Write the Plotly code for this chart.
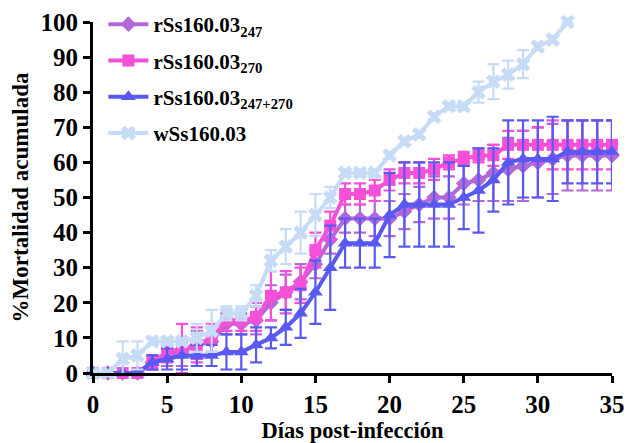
import plotly.graph_objects as go

days = list(range(0, 36))
days_w = list(range(0, 33))

# rSs160.03_247 (purple diamonds)
v247 = [0, 0, 0, 0, 3, 5, 6, 8, 9, 14, 14, 15, 20, 23, 26, 31, 38, 44, 44, 44, 44, 46, 48, 50,
        50, 54, 55, 57, 58, 59, 60, 61, 62, 62, 62, 62]
sd247 = [0, 0, 0, 0, 2, 3, 4, 4, 4, 3, 3, 4, 5, 5, 5, 4, 4, 4, 4, 5, 5, 5, 5, 6,
         6, 6, 6, 8, 9, 10, 10, 10, 10, 10, 10, 10]

# rSs160.03_270 (pink squares)
v270 = [0, 0, 0, 0, 3, 6, 7, 8, 10, 15, 15, 16, 22, 23, 25, 35, 42, 51, 51, 52, 55, 57, 57, 58,
        60, 61, 62, 62, 65, 65, 65, 65, 65, 65, 65, 65]
sd270 = [0, 0, 0, 0, 2, 3, 7, 5, 4, 3, 3, 4, 7, 6, 5, 5, 4, 3, 3, 3, 3, 3, 3, 3,
         2, 2, 2, 3, 4, 4, 5, 7, 7, 7, 7, 7]

# rSs160.03_247+270 (blue triangles)
vboth = [0, 0, 0, 0, 3, 4, 5, 5, 5, 6, 6, 8, 10, 13, 17, 23, 30, 37, 37, 37, 45, 48, 48, 48,
         48, 50, 52, 55, 60, 61, 61, 61, 63, 63, 63, 63]
sdboth = [0, 0, 0, 0, 2, 3, 4, 3, 3, 5, 5, 5, 3, 5, 7, 9, 12, 7, 7, 7, 12, 12, 12, 12,
          12, 9, 12, 9, 12, 11, 11, 12, 9, 9, 9, 9]

# wSs160.03 (light blue crosses)
vw = [0, 0, 4, 5, 9, 9, 9, 10, 12, 17, 17, 22, 32, 36, 40, 45, 50, 57, 57, 57, 62, 66, 68, 73,
      76, 76, 80, 83, 85, 88, 93, 95, 100]
sdw = [0, 0, 5, 4, 1, 1, 1, 4, 6, 2, 2, 3, 3, 5, 6, 6, 3, 1, 1, 1, 1, 1, 1, 1,
       1, 1, 3, 5, 4, 4, 1, 1, 0]

names = ["rSs160.03<sub>247</sub>", "rSs160.03<sub>270</sub>",
         "rSs160.03<sub>247+270</sub>", "wSs160.03"]
colors = ["#B467D8", "#F64FD8", "#5959F2", "#C6DCF6"]
symbols = ["diamond", "square", "triangle-up", "x"]
sizes = [12, 12, 13, 13]

series = [(days, v247, sd247), (days, v270, sd270), (days, vboth, sdboth), (days_w, vw, sdw)]

fig = go.Figure()
for i, (xs, ys, sds) in enumerate(series):
    fig.add_trace(go.Scatter(
        x=xs, y=ys, name=names[i], mode="lines+markers",
        line=dict(color=colors[i], width=4),
        marker=dict(symbol=symbols[i], size=sizes[i], color=colors[i],
                    line=dict(width=0)),
        error_y=dict(type="data", array=sds, visible=True, color=colors[i],
                     thickness=2.2, width=6),
        cliponaxis=False, legendgroup=f"g{i}",
    ))

font_family = "Liberation Serif"
fig.update_layout(
    width=628, height=443,
    margin=dict(l=93, r=16, t=22, b=70, autoexpand=False),
    paper_bgcolor="white", plot_bgcolor="white",
    font=dict(family=font_family, size=20, color="black", weight="bold"),
    showlegend=True,
    legend=dict(x=0.02, y=1 - 4 / 443, xref="paper", yref="container",
                xanchor="left", yanchor="top",
                bgcolor="rgba(0,0,0,0)", font=dict(family=font_family, size=21, weight="bold"),
                tracegroupgap=6, traceorder="grouped", itemwidth=40),
    xaxis=dict(range=[0, 35], tickvals=[0, 5, 10, 15, 20, 25, 30, 35],
               showline=True, linewidth=3, linecolor="black", mirror=False,
               ticks="outside", ticklen=7, tickwidth=3, tickcolor="black",
               showgrid=False, zeroline=False, automargin=False,
               tickfont=dict(family=font_family, size=25, weight="bold"),
               title=dict(text="Días post-infección", standoff=6,
                          font=dict(family=font_family, size=22.5, weight="bold"))),
    yaxis=dict(range=[0, 100], tickvals=list(range(0, 101, 10)),
               showline=True, linewidth=3, linecolor="black", mirror=False,
               ticks="outside", ticklen=7, tickwidth=3, tickcolor="black",
               showgrid=False, zeroline=False, automargin=False,
               tickfont=dict(family=font_family, size=25, weight="bold"),
               title=dict(text="%Mortalidad acumulada", standoff=6,
                          font=dict(family=font_family, size=23, weight="bold"))),
)

fig.write_html("out.html")
